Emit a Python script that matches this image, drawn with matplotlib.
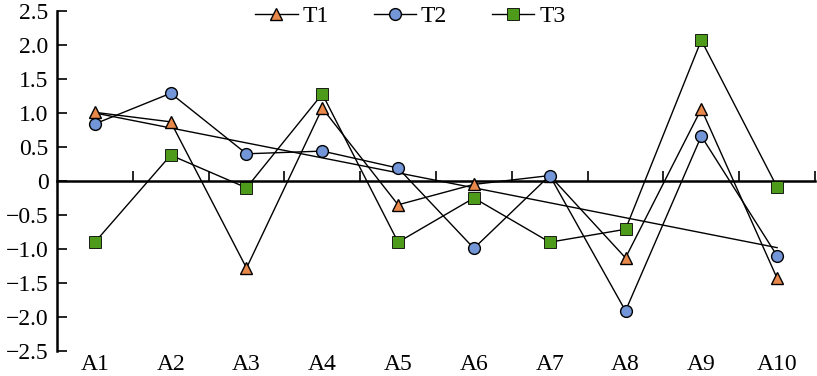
import matplotlib
matplotlib.use('Agg')
import matplotlib.pyplot as plt
import numpy as np

categories = ['A1', 'A2', 'A3', 'A4', 'A5', 'A6', 'A7', 'A8', 'A9', 'A10']
t1 = [1.01, 0.87, -1.28, 1.07, -0.35, -0.05, 0.08, -1.13, 1.06, -1.43]
t2 = [0.84, 1.29, 0.40, 0.44, 0.19, -0.99, 0.08, -1.91, 0.66, -1.10]
t3 = [-0.90, 0.38, -0.10, 1.28, -0.90, -0.25, -0.90, -0.71, 2.07, -0.09]
# straight reference line from A1 to A10
guide_y = [1.0, -0.98]
y_ticks = [-2.5, -2.0, -1.5, -1.0, -0.5, 0, 0.5, 1.0, 1.5, 2.0, 2.5]
y_labels = ['\u22122.5', '\u22122.0', '\u22121.5', '\u22121.0', '\u22120.5', '0',
            '0.5', '1.0', '1.5', '2.0', '2.5']

plt.rcParams['font.family'] = ['Liberation Serif', 'DejaVu Serif']

fig = plt.figure(figsize=(8.17, 3.76), dpi=100)
ax = fig.add_axes([57 / 817, 25 / 376, 758 / 817, 340 / 376])

x = np.arange(1, len(categories) + 1)

ax.plot([x[0], x[-1]], guide_y, color='black', lw=1.0, zorder=2)
ax.plot(x, t1, color='black', lw=1.0, marker='^', ms=9, clip_on=False,
        mfc='#E8884A', mec='black', mew=1.0, label='T1', zorder=3)
ax.plot(x, t2, color='black', lw=1.0, marker='o', ms=8.5, clip_on=False,
        mfc='#7396D8', mec='black', mew=1.0, label='T2', zorder=3)
ax.plot(x, t3, color='black', lw=1.0, marker='s', ms=8, clip_on=False,
        mfc='#4E9A1A', mec='black', mew=0.6, label='T3', zorder=3)

ax.set_xlim(0.5, len(categories) + 0.5)
ax.set_ylim(-2.5, 2.5)

for s in ['top', 'right']:
    ax.spines[s].set_visible(False)
ax.spines['bottom'].set_position(('data', 0))
ax.spines['bottom'].set_linewidth(1.8)
ax.spines['left'].set_linewidth(1.8)

# boundary ticks on the zero line
ax.set_xticks(np.arange(1.5, len(categories) + 1, 1))
ax.set_xticklabels([])
ax.tick_params(axis='x', direction='in', length=7, width=1.2)

ax.set_yticks(y_ticks)
ax.set_yticklabels(y_labels)
ax.tick_params(axis='y', direction='in', length=7, width=1.2, labelsize=17, pad=6)

# category labels along the bottom
sec = ax.secondary_xaxis('bottom')
sec.set_xticks(x)
sec.set_xticklabels(categories)
sec.tick_params(length=0, labelsize=17, pad=2)
sec.spines['bottom'].set_visible(False)

ax.legend(loc='center', bbox_to_anchor=(0.466, 0.985), ncol=3, frameon=False,
          fontsize=17, handlelength=1.8, columnspacing=1.9, handletextpad=0.2,
          borderpad=0, borderaxespad=0)

fig.savefig('out.png', dpi=100)
